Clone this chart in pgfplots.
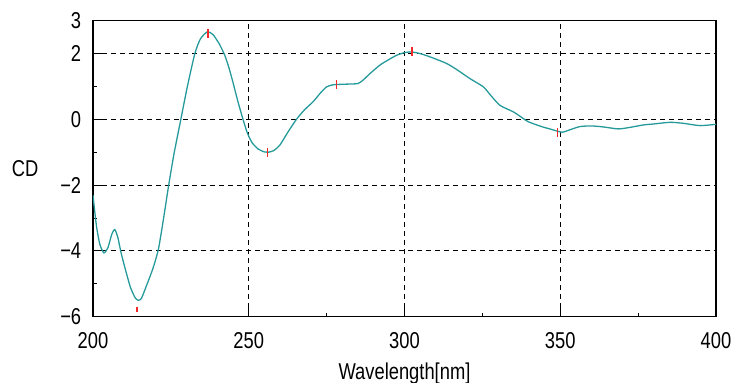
\documentclass[border=0pt]{standalone}
\usepackage{fontspec}
\setmainfont{Liberation Sans}[FakeStretch=0.8]
\usepackage{pgfplots}
\pgfplotsset{compat=1.18}
\definecolor{cdteal}{RGB}{38,154,154}
\definecolor{mkred}{RGB}{240,40,40}
\begin{document}
\fontsize{23}{25}\selectfont
\begin{tikzpicture}
\begin{axis}[
  scale only axis,
  width=623bp, height=296bp,
  xmin=200, xmax=400, ymin=-6, ymax=3,
  xtick={200,250,300,350,400},
  ytick={-6,-4,-2,0,2,3},
  yticklabels={−6,−4,−2,0,2,3},
  minor xtick={275,325,375},
  minor ytick={-5,-3,-1,1},
  tick pos=left,
  tick align=inside,
  major tick length=10bp,
  minor tick length=4bp,
  every tick/.style={black, line width=1bp},
  /pgf/number format/assume math mode=true,
  /pgf/number format/1000 sep={},
  grid=major,
  major grid style={black, line width=1bp, dash pattern=on 5bp off 4bp},
  axis line style={black, line width=1.3bp},
  xticklabel style={yshift=-8bp},
  yticklabel style={xshift=-4bp},
  xlabel={Wavelength[nm]},
  ylabel={CD},
  every axis x label/.style={at={(axis description cs:0.5,0)}, anchor=north, yshift=-38bp},
  every axis y label/.style={at={(axis description cs:0,0.5)}, anchor=west, xshift=-89bp},
]
\addplot[cdteal, line width=1.3bp, smooth, tension=0.4] coordinates {
(200,-2.3) (200.5,-2.75) (201.2,-3.3) (202.2,-3.8) (203.5,-4.06) (204.8,-3.9)
(206,-3.5) (207,-3.35) (208,-3.6) (209,-4.05) (210.5,-4.6) (212,-5.1)
(213.5,-5.42) (214.5,-5.5) (215.5,-5.45) (217,-5.1) (219,-4.6) (220,-4.3)
(221,-3.95) (222,-3.4) (223,-2.8) (224.3,-2.0) (226,-1.05) (228.2,0)
(230.3,1.0) (232.7,2.0) (234.5,2.45) (236.7,2.66) (238.5,2.58) (240.5,2.3)
(242.3,1.95) (243.7,1.55) (245,1.1) (246.5,0.55) (248,0.05) (249.5,-0.4)
(251,-0.7) (253,-0.9) (255,-0.99) (256.2,-1.0) (258,-0.95) (260,-0.78)
(262.5,-0.4) (265.3,0.0) (268,0.3) (270.7,0.54) (273,0.8) (275,0.99)
(277,1.05) (278.2,1.06) (281,1.07) (285.1,1.09) (287,1.22) (288.9,1.39)
(292.1,1.65) (295,1.82) (297.5,1.95) (300,2.03) (302.3,2.05) (305,2.0)
(308.2,1.9) (313.5,1.7) (317,1.5) (321,1.24) (325.3,0.99) (327.5,0.75)
(330.6,0.43) (334.9,0.23) (337,0.1) (339.7,-0.07) (344,-0.22) (347,-0.3)
(350.5,-0.39) (353,-0.32) (356.3,-0.22) (360,-0.2) (363.8,-0.23) (368.6,-0.29)
(372,-0.25) (376.7,-0.17) (380,-0.14) (385.2,-0.09) (389.5,-0.12) (394.9,-0.19)
(400,-0.15)
};
\addplot[mkred, only marks, mark=|, mark size=4.5bp, mark options={mkred, line width=1.6bp}] coordinates {
(236.9,2.6) (256.0,-1.02) (278.2,1.05) (302.5,2.05) (349.1,-0.4)
};
\addplot[mkred, only marks, mark=|, mark size=2.5bp, mark options={mkred, line width=1.6bp}] coordinates {
(214.2,-5.78)
};
\end{axis}
\pgfresetboundingbox
\path[use as bounding box] ([xshift=-93bp,yshift=20.7bp]current axis.north west) rectangle ([xshift=15bp,yshift=-66.3bp]current axis.south east);
\end{tikzpicture}
\end{document}
